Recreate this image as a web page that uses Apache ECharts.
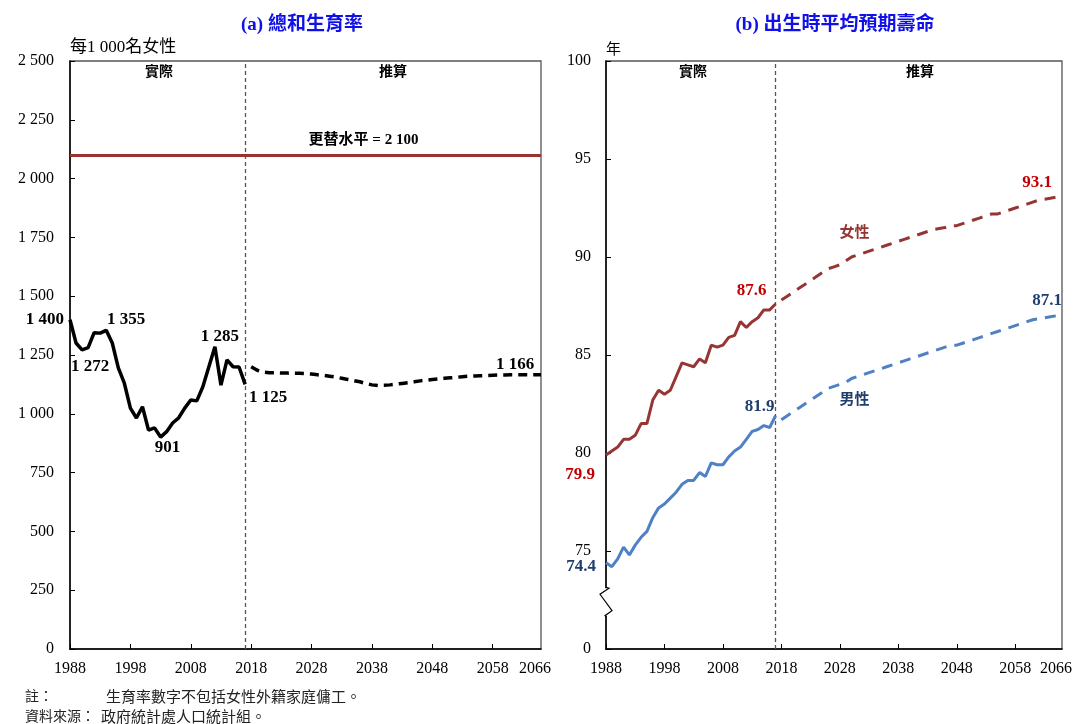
<!DOCTYPE html>
<html>
<head>
<meta charset="utf-8">
<script src="https://cdn.jsdelivr.net/npm/echarts@6/dist/echarts.min.js"></script>
<style>
  html, body { margin: 0; padding: 0; background: #fff; }
  #main { width: 1075px; height: 724px; }
</style>
</head>
<body>
<div id="main"></div>
<script>
// 年份 (1988 - 2066)
const years = [];
for (let y = 1988; y <= 2066; y++) years.push(String(y));
const lastActualYear = '2017';

// (a) 總和生育率 (每1 000名女性)
const tfrActual = [1400, 1301, 1272, 1281, 1345, 1343, 1355, 1301, 1195, 1130,
  1024, 982, 1030, 931, 940, 901, 924, 961, 983, 1024,
  1059, 1055, 1115, 1200, 1285, 1122, 1229, 1200, 1199, 1125];
const tfrProjected = [1200, 1185, 1177, 1175, 1174, 1173, 1173, 1172, 1172, 1171,
  1169, 1166, 1163, 1160, 1156, 1151, 1146, 1141, 1136, 1129,
  1123, 1120, 1121, 1123, 1126, 1129, 1132, 1136, 1140, 1143,
  1146, 1148, 1151, 1153, 1155, 1158, 1160, 1161, 1162, 1163,
  1164, 1165, 1165, 1166, 1166, 1166, 1166, 1166, 1166];
const replacementLevel = 2100;

// (b) 出生時平均預期壽命 (年)
const femaleActual = [79.9, 80.1, 80.3, 80.7, 80.7, 80.9, 81.5, 81.5, 82.7, 83.2,
  83.0, 83.2, 83.9, 84.6, 84.5, 84.4, 84.8, 84.6, 85.5, 85.4,
  85.5, 85.9, 86.0, 86.7, 86.4, 86.7, 86.9, 87.3, 87.3, 87.6];
const femaleProjected = [87.8, 88.0, 88.2, 88.4, 88.6, 88.8, 89.0, 89.2, 89.4, 89.5,
  89.6, 89.8, 90.0, 90.1, 90.2, 90.3, 90.4, 90.5, 90.6, 90.7,
  90.8, 90.9, 91.0, 91.1, 91.2, 91.3, 91.4, 91.45, 91.5, 91.6,
  91.6, 91.7, 91.8, 91.9, 92.0, 92.1, 92.2, 92.2, 92.3, 92.4,
  92.5, 92.6, 92.7, 92.8, 92.9, 92.95, 93.0, 93.05, 93.1];
const maleActual = [74.4, 74.2, 74.6, 75.2, 74.8, 75.3, 75.7, 76.0, 76.7, 77.2,
  77.4, 77.7, 78.0, 78.4, 78.6, 78.6, 79.0, 78.8, 79.5, 79.4,
  79.4, 79.8, 80.1, 80.3, 80.7, 81.1, 81.2, 81.4, 81.3, 81.9];
const maleProjected = [81.7, 81.9, 82.1, 82.3, 82.5, 82.7, 82.9, 83.1, 83.3, 83.4,
  83.5, 83.6, 83.8, 83.9, 84.0, 84.1, 84.2, 84.3, 84.4, 84.5,
  84.6, 84.7, 84.8, 84.9, 85.0, 85.1, 85.2, 85.3, 85.4, 85.5,
  85.5, 85.6, 85.7, 85.8, 85.9, 86.0, 86.1, 86.2, 86.3, 86.4,
  86.5, 86.6, 86.7, 86.8, 86.85, 86.9, 86.95, 87.0, 87.1];

// 數據標籤 (年份 -> 位置)
const tfrActualLabels = {
  '1988': { position: 'left', offset: [-1, 0] },
  '1990': { position: 'bottom', offset: [8, 3] },
  '1994': { position: 'top', offset: [20, 3] },
  '2003': { position: 'bottom', offset: [7, -3] },
  '2012': { position: 'top', offset: [5, 3] },
  '2017': { position: 'bottom', offset: [23, 0] }
};
const tfrProjLabels = { '2066': { position: 'top', offset: [-26, 3] } };
const femaleActualLabels = {
  '1988': { position: 'bottom', offset: [-26, 6] },
  '2017': { position: 'top', offset: [-24, 0] }
};
const femaleProjLabels = {
  '2031': { position: 'top', offset: [-3, -11], text: '女性' },
  '2066': { position: 'top', offset: [-25, 0] }
};
const maleActualLabels = {
  '1988': { position: 'left', offset: [-5, 4] },
  '2017': { position: 'top', offset: [-16, 4] }
};
const maleProjLabels = {
  '2031': { position: 'bottom', offset: [-3, 9], text: '男性' },
  '2066': { position: 'top', offset: [-15, 0] }
};

const serif = "'Liberation Serif', 'Times New Roman', 'Noto Sans CJK TC', serif";
const cjk = "'Noto Sans CJK TC', sans-serif";

function thousands(v) {
  return String(v).replace(/\B(?=(\d{3})+(?!\d))/g, ' ');
}

// 實際數字放在前30年，推算數字放在其後
function buildData(values, offset, labels, fmt, color) {
  const out = years.map(() => null);
  values.forEach((v, i) => {
    const yr = years[i + offset];
    const lb = labels[yr];
    if (lb) {
      out[i + offset] = {
        value: v,
        label: {
          show: true,
          position: lb.position,
          offset: lb.offset,
          formatter: lb.text ? lb.text : fmt(v),
          fontFamily: lb.text ? cjk : serif,
          fontSize: lb.text ? 15 : 17,
          fontWeight: 'bold',
          color: color
        }
      };
    } else {
      out[i + offset] = v;
    }
  });
  return out;
}

function xAxisFor(gridIndex) {
  const last = years.length - 1;
  return {
    type: 'category',
    gridIndex: gridIndex,
    data: years,
    boundaryGap: false,
    axisLine: { lineStyle: { color: '#000', width: 1.5 } },
    axisTick: {
      inside: true, length: 5,
      interval: (i) => i % 10 === 0,
      lineStyle: { color: '#000' }
    },
    axisLabel: {
      interval: (i) => i % 10 === 0 || i === last,
      margin: 12,
      color: '#000',
      fontFamily: serif,
      fontSize: 16,
      formatter: (v, i) => (i === last ? '{last|' + v + '}' : v),
      rich: { last: { fontFamily: serif, fontSize: 16, color: '#000', padding: [0, 12, 4, 0] } }
    },
    splitLine: { show: false }
  };
}

const chart = echarts.init(document.getElementById('main'));

const vline = {
  xAxis: lastActualYear,
  lineStyle: { type: [4, 3], color: '#555', width: 1.3 },
  label: { show: false }
};

const titleStyle = { fontFamily: serif, fontSize: 19, fontWeight: 'bold', color: '#1010e8' };
const headStyle = { fontFamily: cjk, fontSize: 14, fontWeight: 'bold', color: '#000' };
const noteStyle = { fontFamily: cjk, fontSize: 14, fontWeight: 'normal', color: '#222' };

const option = {
  animation: false,
  backgroundColor: '#fff',
  title: [
    { text: '(a) 總和生育率', left: 302, top: 16, textAlign: 'center', padding: 0, textStyle: titleStyle },
    { text: '(b) 出生時平均預期壽命', left: 835, top: 16, textAlign: 'center', padding: 0, textStyle: titleStyle },
    { text: '實際', left: 159, top: 64, textAlign: 'center', padding: 0, textStyle: headStyle },
    { text: '推算', left: 393, top: 64, textAlign: 'center', padding: 0, textStyle: headStyle },
    { text: '實際', left: 693, top: 64, textAlign: 'center', padding: 0, textStyle: headStyle },
    { text: '推算', left: 920, top: 64, textAlign: 'center', padding: 0, textStyle: headStyle },
    { text: '註：', left: 25, top: 689, padding: 0, textStyle: noteStyle },
    { text: '生育率數字不包括女性外籍家庭傭工。', left: 106, top: 689, padding: 0,
      textStyle: Object.assign({}, noteStyle, { fontSize: 15 }) },
    { text: '資料來源：', left: 25, top: 709, padding: 0, textStyle: noteStyle },
    { text: '政府統計處人口統計組。', left: 101, top: 709, padding: 0,
      textStyle: Object.assign({}, noteStyle, { fontSize: 15 }) }
  ],
  grid: [
    { left: 70, right: 534, top: 61, bottom: 75, show: true, borderColor: '#555', borderWidth: 1.3,
      outerBoundsMode: 'none' },
    { left: 606, right: 13, top: 61, bottom: 75, show: true, borderColor: '#555', borderWidth: 1.3,
      outerBoundsMode: 'none' }
  ],
  xAxis: [xAxisFor(0), xAxisFor(1)],
  yAxis: [
    {
      type: 'value', gridIndex: 0, min: 0, max: 2500, interval: 250,
      name: '每1 000名女性', nameLocation: 'end', nameGap: 5,
      nameTextStyle: { align: 'left', fontFamily: serif, fontSize: 17, color: '#000', padding: [0, 0, 0, 0] },
      axisLine: { show: true, lineStyle: { color: '#000', width: 1.5 } },
      axisTick: { show: true, inside: true, length: 5, lineStyle: { color: '#000' } },
      axisLabel: { margin: 16, color: '#000', fontFamily: serif, fontSize: 16, formatter: (v) => thousands(v) },
      splitLine: { show: false }
    },
    {
      type: 'value', gridIndex: 1, min: 70, max: 100, interval: 5,
      name: '年', nameLocation: 'end', nameGap: 5,
      nameTextStyle: { align: 'left', fontFamily: cjk, fontSize: 15, color: '#000', padding: [0, 0, 0, 0] },
      axisLine: { show: true, lineStyle: { color: '#000', width: 1.5 } },
      axisTick: { show: true, inside: true, length: 5, lineStyle: { color: '#000' } },
      axisLabel: { margin: 15, color: '#000', fontFamily: serif, fontSize: 16,
        formatter: (v) => (v === 70 ? '0' : String(v)) },
      splitLine: { show: false }
    }
  ],
  series: [
    {
      name: '總和生育率(實際)', type: 'line', xAxisIndex: 0, yAxisIndex: 0,
      data: buildData(tfrActual, 0, tfrActualLabels, thousands, '#000'),
      symbol: 'circle', symbolSize: 0, showAllSymbol: true,
      lineStyle: { color: '#000', width: 3.5 }, itemStyle: { color: '#000' },
      z: 5,
      markLine: {
        silent: true, symbol: ['none', 'none'],
        data: [
          vline,
          {
            yAxis: replacementLevel,
            lineStyle: { type: 'solid', color: '#9a3330', width: 3 },
            label: {
              show: true, position: 'insideMiddleTop', offset: [58, -2],
              formatter: '更替水平 = ' + thousands(replacementLevel),
              fontFamily: serif, fontSize: 15, fontWeight: 'bold', color: '#000'
            }
          }
        ]
      }
    },
    {
      name: '總和生育率(推算)', type: 'line', xAxisIndex: 0, yAxisIndex: 0,
      data: buildData(tfrProjected, 30, tfrProjLabels, thousands, '#000'),
      symbol: 'circle', symbolSize: 0, showAllSymbol: true,
      lineStyle: { color: '#000', width: 3.5, type: [9, 6] }, itemStyle: { color: '#000' },
      z: 5
    },
    {
      name: '女性(實際)', type: 'line', xAxisIndex: 1, yAxisIndex: 1,
      data: buildData(femaleActual, 0, femaleActualLabels, (v) => v.toFixed(1), '#c00000'),
      symbol: 'circle', symbolSize: 0, showAllSymbol: true,
      lineStyle: { color: '#963634', width: 3 }, itemStyle: { color: '#963634' },
      z: 5,
      markLine: { silent: true, symbol: ['none', 'none'], data: [vline] }
    },
    {
      name: '女性(推算)', type: 'line', xAxisIndex: 1, yAxisIndex: 1,
      data: buildData(femaleProjected, 30, femaleProjLabels, (v) => v.toFixed(1), '#c00000'),
      symbol: 'circle', symbolSize: 0, showAllSymbol: true,
      lineStyle: { color: '#963634', width: 3, type: [11, 8] }, itemStyle: { color: '#963634' },
      z: 5
    },
    {
      name: '男性(實際)', type: 'line', xAxisIndex: 1, yAxisIndex: 1,
      data: buildData(maleActual, 0, maleActualLabels, (v) => v.toFixed(1), '#1f3e6e'),
      symbol: 'circle', symbolSize: 0, showAllSymbol: true,
      lineStyle: { color: '#4f81c4', width: 3 }, itemStyle: { color: '#4f81c4' },
      z: 5
    },
    {
      name: '男性(推算)', type: 'line', xAxisIndex: 1, yAxisIndex: 1,
      data: buildData(maleProjected, 30, maleProjLabels, (v) => v.toFixed(1), '#1f3e6e'),
      symbol: 'circle', symbolSize: 0, showAllSymbol: true,
      lineStyle: { color: '#4f81c4', width: 3, type: [11, 8] }, itemStyle: { color: '#4f81c4' },
      z: 5
    }
  ]
};

// 女性/男性文字用線條顏色
option.series[3].data.forEach((d) => {
  if (d && d.label && d.label.formatter === '女性') d.label.color = '#963634';
});
option.series[5].data.forEach((d) => {
  if (d && d.label && d.label.formatter === '男性') d.label.color = '#1f3e6e';
});

chart.setOption(option);

// 縱軸斷開符號 (73.1 至 71.7 之間)
const axX = chart.convertToPixel({ xAxisIndex: 1 }, years[0]);
const yTop = chart.convertToPixel({ yAxisIndex: 1 }, 73.1);
const yBot = chart.convertToPixel({ yAxisIndex: 1 }, 71.7);
chart.setOption({
  graphic: [
    { type: 'rect', z: 100, shape: { x: axX - 3, y: yTop, width: 6, height: yBot - yTop },
      style: { fill: '#fff' } },
    { type: 'polyline', z: 101,
      shape: { points: [[axX, yTop - 1], [axX + 3, yTop], [axX - 6, yTop + 6], [axX + 6, yBot - 5], [axX - 1, yBot], [axX, yBot + 1]] },
      style: { stroke: '#000', lineWidth: 1.2, fill: null } }
  ]
});
</script>
</body>
</html>
